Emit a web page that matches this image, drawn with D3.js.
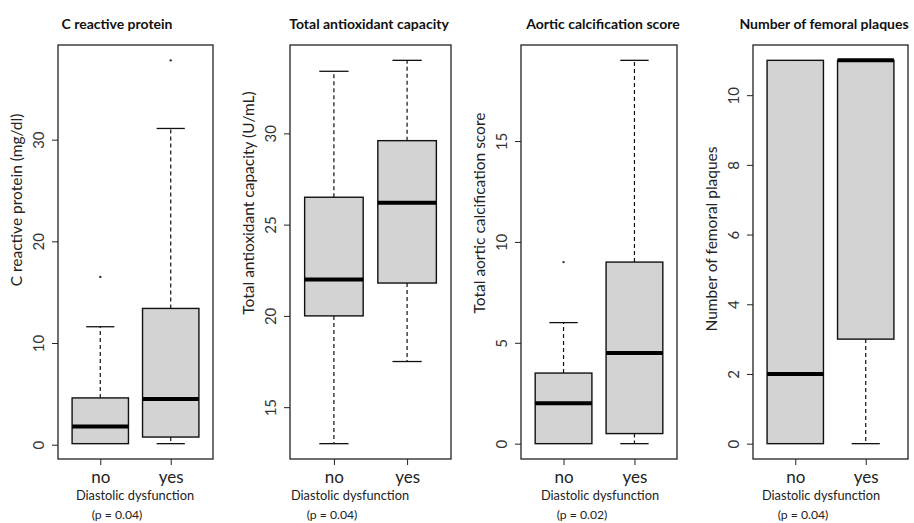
<!DOCTYPE html>
<html>
<head>
<meta charset="utf-8">
<script src="https://cdn.jsdelivr.net/npm/d3@7"></script>
<style>
  body { margin: 0; background: #fff; }
  svg { display: block; font-family: Lato, "Open Sans", sans-serif; }
</style>
</head>
<body>
<div id="chart"></div>
<script>
// data
var groups = ['no', 'yes'];
var titles = ['C reactive protein', 'Total antioxidant capacity', 'Aortic calcification score', 'Number of femoral plaques'];
var yLabels = ['C reactive protein (mg/dl)', 'Total antioxidant capacity (U/mL)', 'Total aortic calcification score', 'Number of femoral plaques'];
var xLabel = 'Diastolic dysfunction';
var pLabels = ['(p = 0.04)', '(p = 0.04)', '(p = 0.02)', '(p = 0.04)'];
var yTicks = [
    [0, 10, 20, 30],
    [15, 20, 25, 30],
    [0, 5, 10, 15],
    [0, 2, 4, 6, 8, 10]
];
// [lower whisker, q1, median, q3, upper whisker] for no / yes
var crpStats = [[0.1, 0.1, 1.8, 4.6, 11.6], [0.1, 0.75, 4.5, 13.4, 31.1]];
var tacStats = [[13.0, 20.0, 22.0, 26.5, 33.4], [17.5, 21.8, 26.2, 29.6, 34.0]];
var acsStats = [[0, 0, 2.0, 3.5, 6.0], [0, 0.5, 4.5, 9.0, 19.0]];
var fpStats = [[0, 0, 2.0, 11.0, 11.0], [0, 3.0, 11.0, 11.0, 11.0]];
var crpOutliers = [[16.5], [37.8]];
var tacOutliers = [[], []];
var acsOutliers = [[9.0], []];
var fpOutliers = [[], []];

var allStats = [crpStats, tacStats, acsStats, fpStats];
var allOutliers = [crpOutliers, tacOutliers, acsOutliers, fpOutliers];
//end data

// layout
var W = 914, H = 523;
var frameLeft = [58, 290, 521, 753];
var frameRight = [213, 451, 677, 908];
var frameTop = 45, frameBottom = 459;
var titleX = [117, 369, 603, 824];
var yLabelY = [200, 203, 213, 239];
var xLabelX = [135, 350, 600, 821];
var pLabelX = [117, 332, 582, 803];

var svg = d3.select('#chart').append('svg')
    .attr('width', W)
    .attr('height', H);

svg.append('rect').attr('width', W).attr('height', H).attr('fill', '#fff');

titles.forEach(function(title, k){
    var stats = allStats[k];
    var outliers = allOutliers[k];
    var lo = d3.min(stats, function(s, i){ return d3.min([s[0]].concat(outliers[i])); });
    var hi = d3.max(stats, function(s, i){ return d3.max([s[4]].concat(outliers[i])); });
    var pad = (hi - lo) * 0.04;

    var y = d3.scaleLinear()
        .domain([lo - pad, hi + pad])
        .range([frameBottom, frameTop]);

    var x = d3.scaleLinear()
        .domain([0.4, 2.6])
        .range([frameLeft[k], frameRight[k]]);

    var g = svg.append('g').attr('class', 'panel');

    // title
    g.append('text')
        .attr('x', titleX[k])
        .attr('y', 29)
        .attr('text-anchor', 'middle')
        .attr('font-weight', 'bold')
        .attr('font-size', 14)
        .attr('fill', '#111')
        .text(title);

    // y axis
    var yAxis = g.append('g')
        .attr('transform', 'translate(' + frameLeft[k] + ',0)')
        .call(d3.axisLeft(y).tickValues(yTicks[k]).tickSize(6).tickFormat(d3.format('d')));
    yAxis.select('.domain').remove();
    yAxis.selectAll('line').attr('stroke', '#222').attr('stroke-width', 1);
    yAxis.selectAll('text')
        .attr('x', null)
        .attr('dy', null)
        .attr('text-anchor', 'middle')
        .attr('transform', 'translate(-14,0) rotate(-90)')
        .attr('font-family', 'Lato, sans-serif')
        .attr('font-size', 15)
        .attr('fill', '#333');

    // x axis
    var xAxis = g.append('g')
        .attr('transform', 'translate(0,' + frameBottom + ')')
        .call(d3.axisBottom(x).tickValues([1, 2]).tickSize(6).tickFormat(function(d){ return groups[d - 1]; }));
    xAxis.select('.domain').remove();
    xAxis.selectAll('line').attr('stroke', '#222').attr('stroke-width', 1);
    xAxis.selectAll('text')
        .attr('y', 24)
        .attr('dy', null)
        .attr('font-family', 'Lato, sans-serif')
        .attr('font-size', 17)
        .attr('fill', '#222');

    // y label
    g.append('text')
        .attr('transform', 'translate(' + (frameLeft[k] - 36) + ',' + yLabelY[k] + ') rotate(-90)')
        .attr('text-anchor', 'middle')
        .attr('font-size', 15.5)
        .attr('fill', '#222')
        .text(yLabels[k]);

    // x label and p value
    g.append('text')
        .attr('x', xLabelX[k])
        .attr('y', 500)
        .attr('text-anchor', 'middle')
        .attr('font-size', 12.8)
        .attr('fill', '#222')
        .text(xLabel);
    g.append('text')
        .attr('x', pLabelX[k])
        .attr('y', 519)
        .attr('text-anchor', 'middle')
        .attr('font-size', 12.2)
        .attr('fill', '#222')
        .text(pLabels[k]);

    // boxes
    var boxes = g.selectAll('g.box')
        .data(stats)
        .enter().append('g')
        .attr('class', 'box');

    // whiskers
    boxes.append('line')
        .attr('x1', function(d, i){ return x(i + 1); })
        .attr('x2', function(d, i){ return x(i + 1); })
        .attr('y1', function(d){ return y(d[3]); })
        .attr('y2', function(d){ return y(d[4]); })
        .attr('stroke', '#111')
        .attr('stroke-width', 1.2)
        .attr('stroke-dasharray', '4,3');
    boxes.append('line')
        .attr('x1', function(d, i){ return x(i + 1); })
        .attr('x2', function(d, i){ return x(i + 1); })
        .attr('y1', function(d){ return y(d[1]); })
        .attr('y2', function(d){ return y(d[0]); })
        .attr('stroke', '#111')
        .attr('stroke-width', 1.2)
        .attr('stroke-dasharray', '4,3');

    // caps
    [0, 4].forEach(function(j){
        boxes.filter(function(d){ return d[j] !== d[j === 0 ? 1 : 3]; })
            .append('line')
            .attr('x1', function(d){ return x(stats.indexOf(d) + 1 - 0.2); })
            .attr('x2', function(d){ return x(stats.indexOf(d) + 1 + 0.2); })
            .attr('y1', function(d){ return y(d[j]); })
            .attr('y2', function(d){ return y(d[j]); })
            .attr('stroke', '#111')
            .attr('stroke-width', 1.3);
    });

    // box
    boxes.append('rect')
        .attr('x', function(d, i){ return x(i + 1 - 0.4); })
        .attr('width', function(){ return x(1.4) - x(0.6); })
        .attr('y', function(d){ return y(d[3]); })
        .attr('height', function(d){ return y(d[1]) - y(d[3]); })
        .attr('fill', '#d3d3d3')
        .attr('stroke', '#111')
        .attr('stroke-width', 1.4);

    // median
    boxes.append('line')
        .attr('x1', function(d, i){ return x(i + 1 - 0.4); })
        .attr('x2', function(d, i){ return x(i + 1 + 0.4); })
        .attr('y1', function(d){ return y(d[2]); })
        .attr('y2', function(d){ return y(d[2]); })
        .attr('stroke', '#000')
        .attr('stroke-width', 4);

    // outliers
    outliers.forEach(function(list, i){
        g.selectAll(null)
            .data(list)
            .enter().append('circle')
            .attr('cx', x(i + 1))
            .attr('cy', function(d){ return y(d); })
            .attr('r', 1.2)
            .attr('fill', '#333');
    });

    // frame
    g.append('rect')
        .attr('x', frameLeft[k])
        .attr('y', frameTop)
        .attr('width', frameRight[k] - frameLeft[k])
        .attr('height', frameBottom - frameTop)
        .attr('fill', 'none')
        .attr('stroke', '#222')
        .attr('stroke-width', 1.3);
});
</script>
</body>
</html>
